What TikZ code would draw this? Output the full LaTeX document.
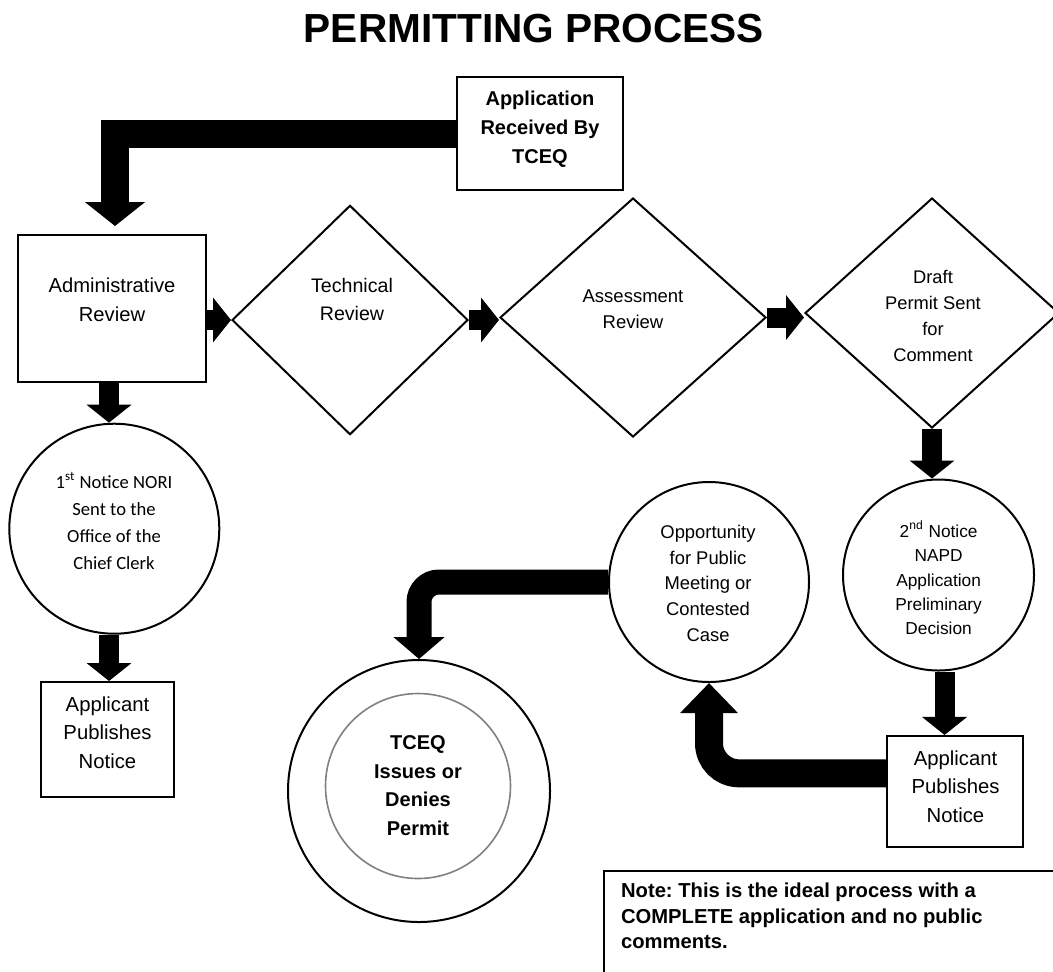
\documentclass[tikz,border=0pt]{standalone}
\usepackage{fontspec}
\setmainfont{Liberation Sans}
\newfontfamily\calibri{Carlito}
\usetikzlibrary{shapes.geometric,arrows.meta}
\frenchspacing

\tikzset{
  box/.style={draw, line width=1pt, inner sep=0pt},
  dia/.style={draw, diamond, line width=1pt, inner sep=0pt},
  circ/.style={draw, circle, line width=1pt, inner sep=0pt},
  txt/.style={align=center, inner sep=0pt},
  blk/.style={line width=10pt, -{Triangle[width=22pt,length=9pt]}},
}

\begin{document}
\begin{tikzpicture}[x=0.5pt, y=-0.5pt]
\useasboundingbox (0,0) rectangle (1053,971);

% title
\node[txt, font=\bfseries\fontsize{20.3}{24}\selectfont] (title) at (534,29) {PERMITTING PROCESS};

% top row
\node[box, minimum width=83pt, minimum height=56.5pt] (app) at (540,133.5) {};
\node[txt, font=\bfseries\fontsize{10}{14.5}\selectfont] (app-t) at (540,129) {Application\\Received By\\TCEQ};

\node[box, minimum width=94pt, minimum height=73.5pt] (admin) at (112,308.5) {};
\node[txt, font=\fontsize{10.1}{14.25}\selectfont] (admin-t) at (112,300) {Administrative\\Review};

\node[dia, minimum width=118pt, minimum height=114.7pt] (tech) at (350,320) {};
\node[txt, font=\fontsize{9.8}{14}\selectfont] (tech-t) at (352,299) {Technical\\Review};

\node[dia, minimum width=133pt, minimum height=119.5pt] (assess) at (633,317.5) {};
\node[txt, font=\fontsize{9.25}{12.85}\selectfont] (assess-t) at (633,309) {Assessment\\Review};

\node[dia, minimum width=127pt, minimum height=115pt] (draft) at (932,313) {};
\node[txt, font=\fontsize{9.15}{13}\selectfont] (draft-t) at (933,315.5) {Draft\\Permit Sent\\for\\Comment};

% left column
\node[circ, minimum size=105pt] (nori) at (114.3,528.7) {};
\node[txt, font=\calibri\fontsize{9.3}{13.5}\selectfont] (nori-t) at (114,521) {1\textsuperscript{st} Notice NORI\\Sent to the\\Office of the\\Chief Clerk};

\node[box, minimum width=66.8pt, minimum height=57.5pt] (pub1) at (107.5,739.5) {};
\node[txt, font=\fontsize{10.15}{14.15}\selectfont] (pub1-t) at (107.5,732.5) {Applicant\\Publishes\\Notice};

% lower right
\node[circ, minimum size=95.5pt] (napd) at (938.5,575) {};
\node[txt, font=\fontsize{8.65}{12.15}\selectfont] (napd-t) at (938.6,578) {2\textsuperscript{nd} Notice\\NAPD\\Application\\Preliminary\\Decision};

\node[box, minimum width=68.1pt, minimum height=55.35pt] (pub2) at (955.3,791.3) {};
\node[txt, font=\fontsize{10.15}{14.15}\selectfont] (pub2-t) at (955.5,786.7) {Applicant\\Publishes\\Notice};

\node[circ, minimum size=100pt] (opp) at (709,582) {};
\node[txt, font=\fontsize{9.2}{12.9}\selectfont] (opp-t) at (708,583.4) {Opportunity\\for Public\\Meeting or\\Contested\\Case};

\node[circ, minimum size=131pt] (tceq) at (419,791) {};
\node[circ, draw=gray, line width=0.8pt, minimum size=92.5pt] (tceq-in) at (418,786) {};
\node[txt, font=\bfseries\fontsize{10}{14.25}\selectfont] (tceq-t) at (418,785.5) {TCEQ\\Issues or\\Denies\\Permit};

% note
\draw[line width=1pt] (604,990) |- (1070,871);
\node[txt, anchor=west, align=left, font=\bfseries\fontsize{10.1}{12.65}\selectfont] (note) at (620.7,916) {Note: This is the ideal process with a\\COMPLETE application and no public\\comments.};

% arrows
\draw[line width=14pt, -{Triangle[width=29.5pt,length=12pt]}, shorten >=4pt] (app.west) -| ([xshift=1.5pt]admin.north);
\draw[blk] (admin.east |- tech.west) -- (tech.west);
\draw[blk] (tech.east) -- (tech.east -| assess.west);
\draw[blk] (assess.east) -- (assess.east -| draft.west);
\draw[blk] (admin.south -| 109,0) -- (109,0 |- nori.north);
\draw[blk] (nori.south -| 109,0) -- (109,0 |- pub1.north);
\draw[blk] (draft.south) -- (draft.south |- napd.north);
\draw[blk] ([xshift=3pt]napd.south) -- ([xshift=3pt]napd.south |- pub2.north);
\draw[line width=14pt, rounded corners=15pt, -{Triangle[width=28pt,length=15pt]}] ([yshift=9pt]pub2.west) -| (opp.south);
\draw[line width=12.5pt, rounded corners=10pt, -{Triangle[width=25pt,length=11pt]}] (opp.west) -| (tceq.north);
\end{tikzpicture}
\end{document}
